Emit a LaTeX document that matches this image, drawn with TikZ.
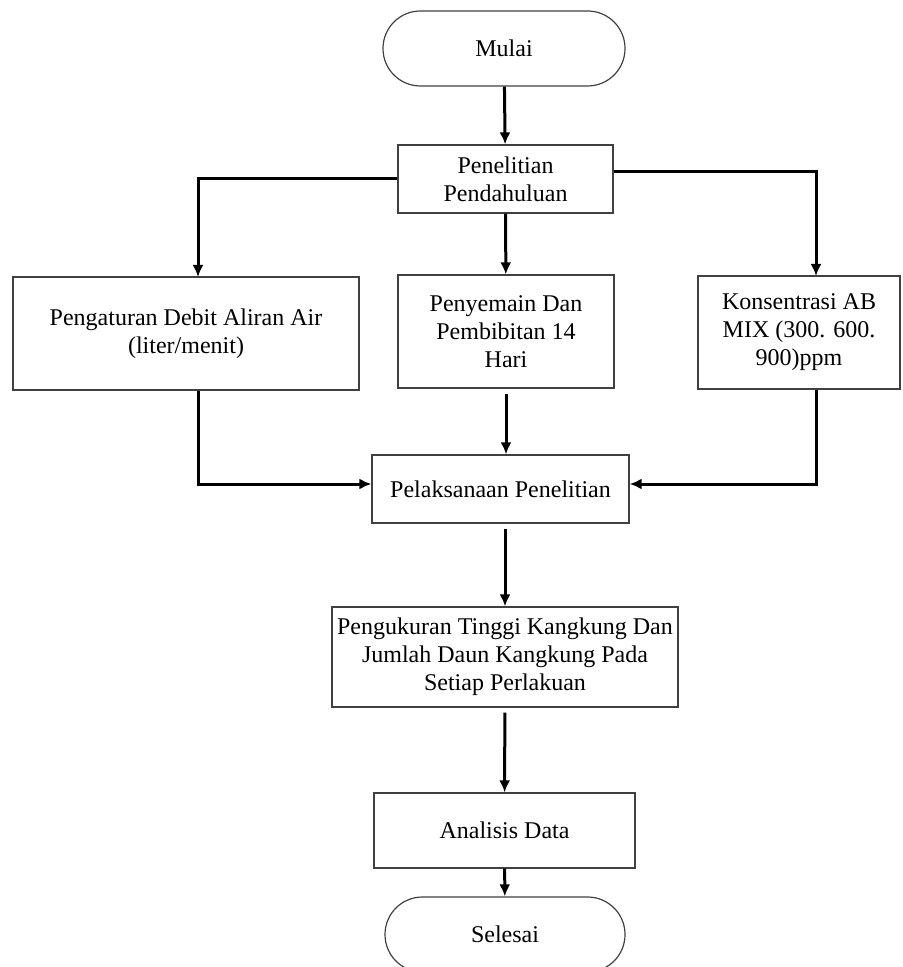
\documentclass[tikz,border=0pt]{standalone}
\usepackage{fontspec}
\setmainfont{Liberation Serif}
\usetikzlibrary{arrows.meta}

\begin{document}
\begin{tikzpicture}[x=0.5pt, y=-0.5pt,
		box/.style={draw=black!75, line width=0.6pt, shape=rectangle, inner sep=0pt, align=center, font=\fontsize{12}{14}\selectfont},
		term/.style={box, rounded corners=18.7pt},
		arr/.style={line width=1.5pt, -{Latex[length=6pt, width=5.5pt]}}]
			\useasboundingbox (0, 0) rectangle (902, 967);
			\clip (0, 0) rectangle (902, 967);
			\node[term, minimum width=121pt, minimum height=37.5pt] (mulai) at (504, 48.5) {Mulai};
			\node[box, minimum width=107.5pt, minimum height=34pt] (pendahuluan) at (505.5, 179) {Penelitian\\Pendahuluan};
			\node[box, minimum width=173pt, minimum height=56.5pt] (debit) at (186, 333.5) {Pengaturan Debit Aliran Air\\(liter/menit)};
			\node[box, minimum width=108pt, minimum height=56.5pt] (penyemaian) at (506, 331.5) {Penyemain Dan\\Pembibitan 14\\Hari};
			\node[box, minimum width=101pt, minimum height=56.5pt] (konsentrasi) at (799, 332.5) {Konsentrasi AB\\MIX (300. 600.\\900)ppm};
			\node[box, minimum width=128.5pt, minimum height=34pt] (pelaksanaan) at (500.5, 489) {Pelaksanaan Penelitian};
			\node[box, minimum width=173pt, minimum height=50pt] (pengukuran) at (505, 657) {Pengukuran Tinggi Kangkung Dan\\Jumlah Daun Kangkung Pada\\Setiap Perlakuan};
			\node[box, minimum width=130.5pt, minimum height=37.5pt] (analisis) at (504.5, 830.5) {Analisis Data};
			\node[term, minimum width=120pt, minimum height=37.5pt] (selesai) at (505, 934.5) {Selesai};
			\coordinate (dtop) at (198, 277);
			\coordinate (ktop) at (816, 276);
			\draw[arr] (mulai) -- (pendahuluan);
			\draw[arr] (pendahuluan.west) -| (dtop);
			\draw[arr] ([yshift=3.5pt]pendahuluan.east) -| (ktop);
			\draw[arr] (pendahuluan) -- (penyemaian);
			\draw[arr] (debit.south -| dtop) |- ([yshift=2.5pt]pelaksanaan.west);
			\draw[arr, shorten <=2.5pt] (penyemaian) -- (penyemaian.south |- pelaksanaan.north);
			\draw[arr] (konsentrasi.south -| ktop) |- ([yshift=2.5pt]pelaksanaan.east);
			\draw[arr, shorten <=2.5pt] (pengukuran.north |- pelaksanaan.south) -- (pengukuran);
			\draw[arr, shorten <=2.5pt] (pengukuran) -- (analisis);
			\draw[arr] (analisis) -- (selesai);
		\end{tikzpicture}
\end{document}
